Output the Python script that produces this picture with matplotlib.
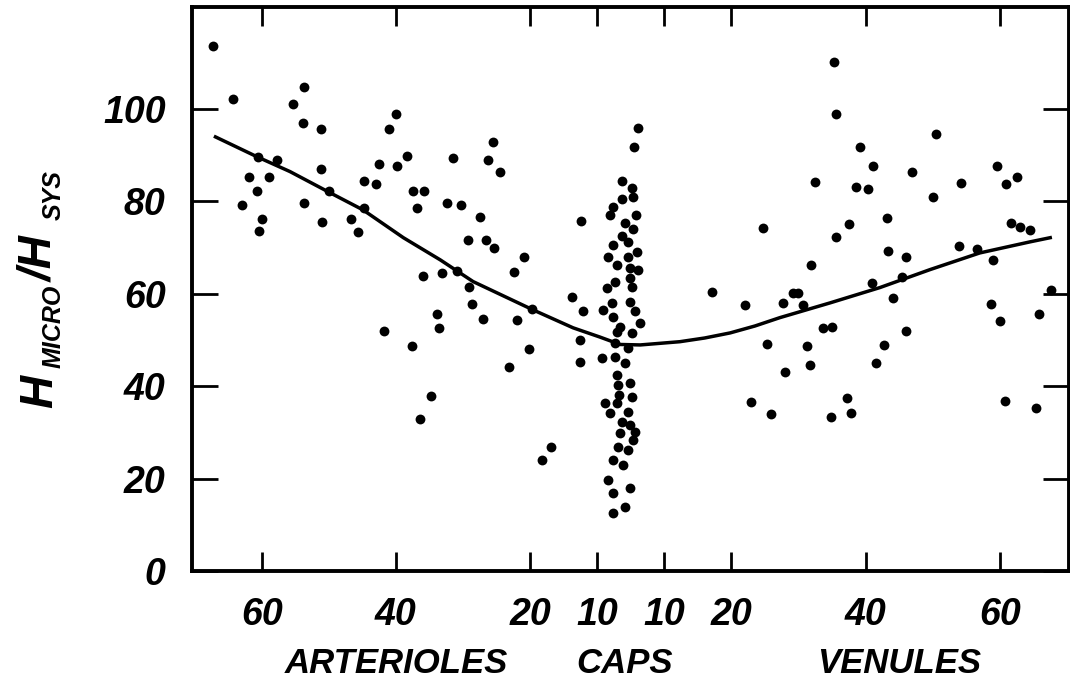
import numpy as np
import matplotlib
matplotlib.use("Agg")
import matplotlib.pyplot as plt
from matplotlib.transforms import blended_transform_factory

plt.rcParams['font.family'] = ['Liberation Sans', 'DejaVu Sans']
plt.rcParams['font.weight'] = 'bold'
plt.rcParams['font.style'] = 'italic'

# Arterioles: diameter (um) and H_micro/H_sys (%)
art_d = [67.3, 53.7, 64.3, 55.3, 40.0, 53.8, 51.2, 41.0, 60.5, 57.7,
         51.2, 42.5, 39.8, 38.3, 31.5, 61.9, 58.9, 60.7, 62.9, 53.7,
         50.0, 44.8, 43.0, 44.8, 37.5, 35.8, 36.9, 32.4, 30.3, 60.0,
         60.4, 51.0, 46.7, 45.6, 36.0, 33.1, 33.9, 33.6, 41.8, 37.6,
         34.8, 36.4, 25.5, 26.3, 24.5, 27.5, 29.3, 26.6, 25.4, 20.9,
         22.4, 30.9, 29.1, 28.7, 27.0, 22.0, 19.7, 13.8, 12.1, 12.4,
         12.6, 12.6, 20.2, 23.1, 16.9, 18.2]
art_h = [113.6, 104.6, 102.0, 101.1, 98.9, 97.0, 95.7, 95.7, 89.6, 89.0,
         87.0, 88.1, 87.7, 89.8, 89.4, 85.3, 85.3, 82.1, 79.2, 79.5,
         82.1, 84.4, 83.8, 78.6, 82.3, 82.1, 78.6, 79.7, 79.2, 76.2,
         73.6, 75.6, 76.2, 73.4, 63.9, 64.5, 55.6, 52.6, 52.0, 48.7,
         37.9, 32.9, 92.7, 89.0, 86.4, 76.6, 71.7, 71.7, 69.9, 68.0,
         64.7, 65.0, 61.5, 57.8, 54.6, 54.3, 56.7, 59.3, 56.3, 75.8,
         50.0, 45.2, 48.1, 44.2, 26.8, 24.0]

# Capillaries: position within the CAPS column and H_micro/H_sys (%)
cap_x = [1.07, 0.48, -1.31, 0.18, 0.33, -1.31, -2.65, -3.10, 0.77, -0.86,
         0.33, -1.31, -0.42, -2.65, 0.92, -3.40, -0.42, -2.06, -0.12, 1.07,
         -0.12, -2.35, -3.55, 0.18, -2.80, -0.12, -4.14, 0.63, -2.65, -1.61,
         1.37, -2.06, 0.18, -2.35, -0.42, -4.29, -2.35, -0.86, -2.06, -1.91,
         -0.12, -1.76, 0.18, -3.84, -2.06, -3.10, -0.42, -1.31, -0.12, 0.63,
         -1.61, 0.33, -1.91, -0.42, -2.65, -1.16, -3.40, -2.65, -0.12, -0.86,
         -2.65]
cap_h = [95.9, 91.8, 84.4, 82.9, 81.0, 80.5, 78.8, 77.1, 77.1, 75.3,
         74.0, 72.5, 71.2, 70.6, 69.1, 68.0, 68.0, 66.2, 65.6, 65.2,
         63.4, 62.6, 61.3, 61.5, 58.0, 58.2, 56.5, 56.3, 55.0, 52.8,
         53.7, 51.7, 51.5, 49.4, 48.3, 46.1, 46.3, 45.0, 42.4, 40.3,
         40.7, 38.1, 37.7, 36.4, 36.4, 34.2, 34.4, 32.3, 31.6, 30.1,
         29.9, 28.4, 26.8, 26.2, 24.0, 22.9, 19.7, 16.9, 18.0, 13.9,
         12.6]

# Venules: diameter (um) and H_micro/H_sys (%)
ven_d = [35.3, 35.6, 50.5, 39.2, 41.1, 46.9, 59.6, 62.5, 60.9, 32.4,
         38.6, 40.3, 54.2, 50.0, 43.2, 37.5, 24.7, 35.6, 61.6, 63.0,
         64.5, 43.3, 46.0, 53.9, 56.6, 59.0, 31.8, 40.9, 45.4, 67.6,
         17.1, 22.0, 27.7, 29.2, 29.9, 30.7, 44.1, 58.7, 60.0, 65.8,
         33.6, 35.0, 46.0, 25.3, 31.3, 42.7, 31.7, 41.5, 28.0, 22.9,
         25.9, 37.2, 37.8, 34.8, 60.8, 65.4]
ven_h = [110.2, 98.9, 94.6, 91.8, 87.5, 86.4, 87.5, 85.3, 83.8, 84.2,
         83.1, 82.7, 84.0, 80.8, 76.4, 75.1, 74.3, 72.3, 75.3, 74.5,
         73.8, 69.3, 68.0, 70.4, 69.7, 67.3, 66.2, 62.4, 63.7, 60.8,
         60.4, 57.6, 58.0, 60.2, 60.2, 57.6, 59.1, 57.8, 54.1, 55.6,
         52.6, 52.8, 52.0, 49.1, 48.7, 48.9, 44.6, 45.0, 43.1, 36.6,
         34.0, 37.5, 34.2, 33.3, 36.8, 35.3]

# Fitted trend along the network (axis position, %)
curve_x = [-61.9, -55.7, -50.8, -44.8, -39.9, -33.9, -28.4, -23.5, -14.6,
           -8.6, -4.6, -1.6, 1.4, 7.3, 11.0, 14.8, 18.5, 22.2, 29.7, 37.1,
           44.6, 52.0, 59.5, 62.5]
curve_y = [93.9, 89.6, 86.4, 81.8, 78.1, 72.1, 67.3, 62.6, 56.5,
           52.6, 50.6, 49.0, 48.9, 49.6, 50.4, 51.5, 53.0, 54.8, 58.0, 61.3,
           65.2, 68.8, 71.2, 72.1]

tick_d = [60, 40, 20, 10]
y_ticks = [0, 20, 40, 60, 80, 100]

# arterioles run right-to-left towards the caps, venules left-to-right
gap = 5
art_x = [-(d - gap) for d in art_d]
ven_x = [d - gap for d in ven_d]
xt = [-(d - gap) for d in tick_d] + [d - gap for d in tick_d[::-1]]
xl = [str(d) for d in tick_d] + [str(d) for d in tick_d[::-1]]

fig = plt.figure(figsize=(10.7, 6.82), dpi=100)
ax = fig.add_axes([192 / 1070, 111 / 682, 877 / 1070, 564 / 682])

ms = 50
ax.scatter(art_x, art_h, s=ms, c='black', linewidths=0, zorder=3)
ax.scatter(cap_x, cap_h, s=ms, c='black', linewidths=0, zorder=3)
ax.scatter(ven_x, ven_h, s=ms, c='black', linewidths=0, zorder=3)
ax.plot(curve_x, curve_y, color='black', lw=2.5, zorder=2,
        solid_joinstyle='round')

ax.set_xlim(-65.4, 65.3)
ax.set_ylim(0, 122)
ax.set_xticks(xt)
ax.set_xticklabels(xl)
ax.set_yticks(y_ticks)

for s in ax.spines.values():
    s.set_linewidth(2.8)
ax.tick_params(axis='both', direction='in', top=True, right=True,
               width=2.0, labelsize=27)
ax.tick_params(axis='x', length=14, pad=19)
ax.tick_params(axis='y', length=19, pad=19)
for lab in ax.get_xticklabels() + ax.get_yticklabels():
    lab.set_fontweight('bold')
    lab.set_fontstyle('italic')

# group names under the ticks
tr = blended_transform_factory(ax.transData, fig.transFigure)
for name, xpos in [('ARTERIOLES', -35), ('CAPS', -1), ('VENULES', 40)]:
    ax.text(xpos, 9 / 682, name, transform=tr, ha='center', va='baseline',
            fontsize=25, fontweight='bold', fontstyle='italic')

# y label H_MICRO / H_SYS built from pieces
kw = dict(rotation=90, rotation_mode='anchor', ha='left', va='baseline',
          fontweight='bold', fontstyle='italic')
fig.text(52 / 1070, (682 - 408) / 682, 'H', fontsize=33, **kw)
fig.text(61 / 1070, (682 - 368) / 682, 'MICRO', fontsize=18, **kw)
fig.text(52 / 1070, (682 - 282) / 682, '/H', fontsize=33, **kw)
fig.text(61 / 1070, (682 - 220) / 682, 'SYS', fontsize=18, **kw)

fig.savefig('out.png', dpi=100)
